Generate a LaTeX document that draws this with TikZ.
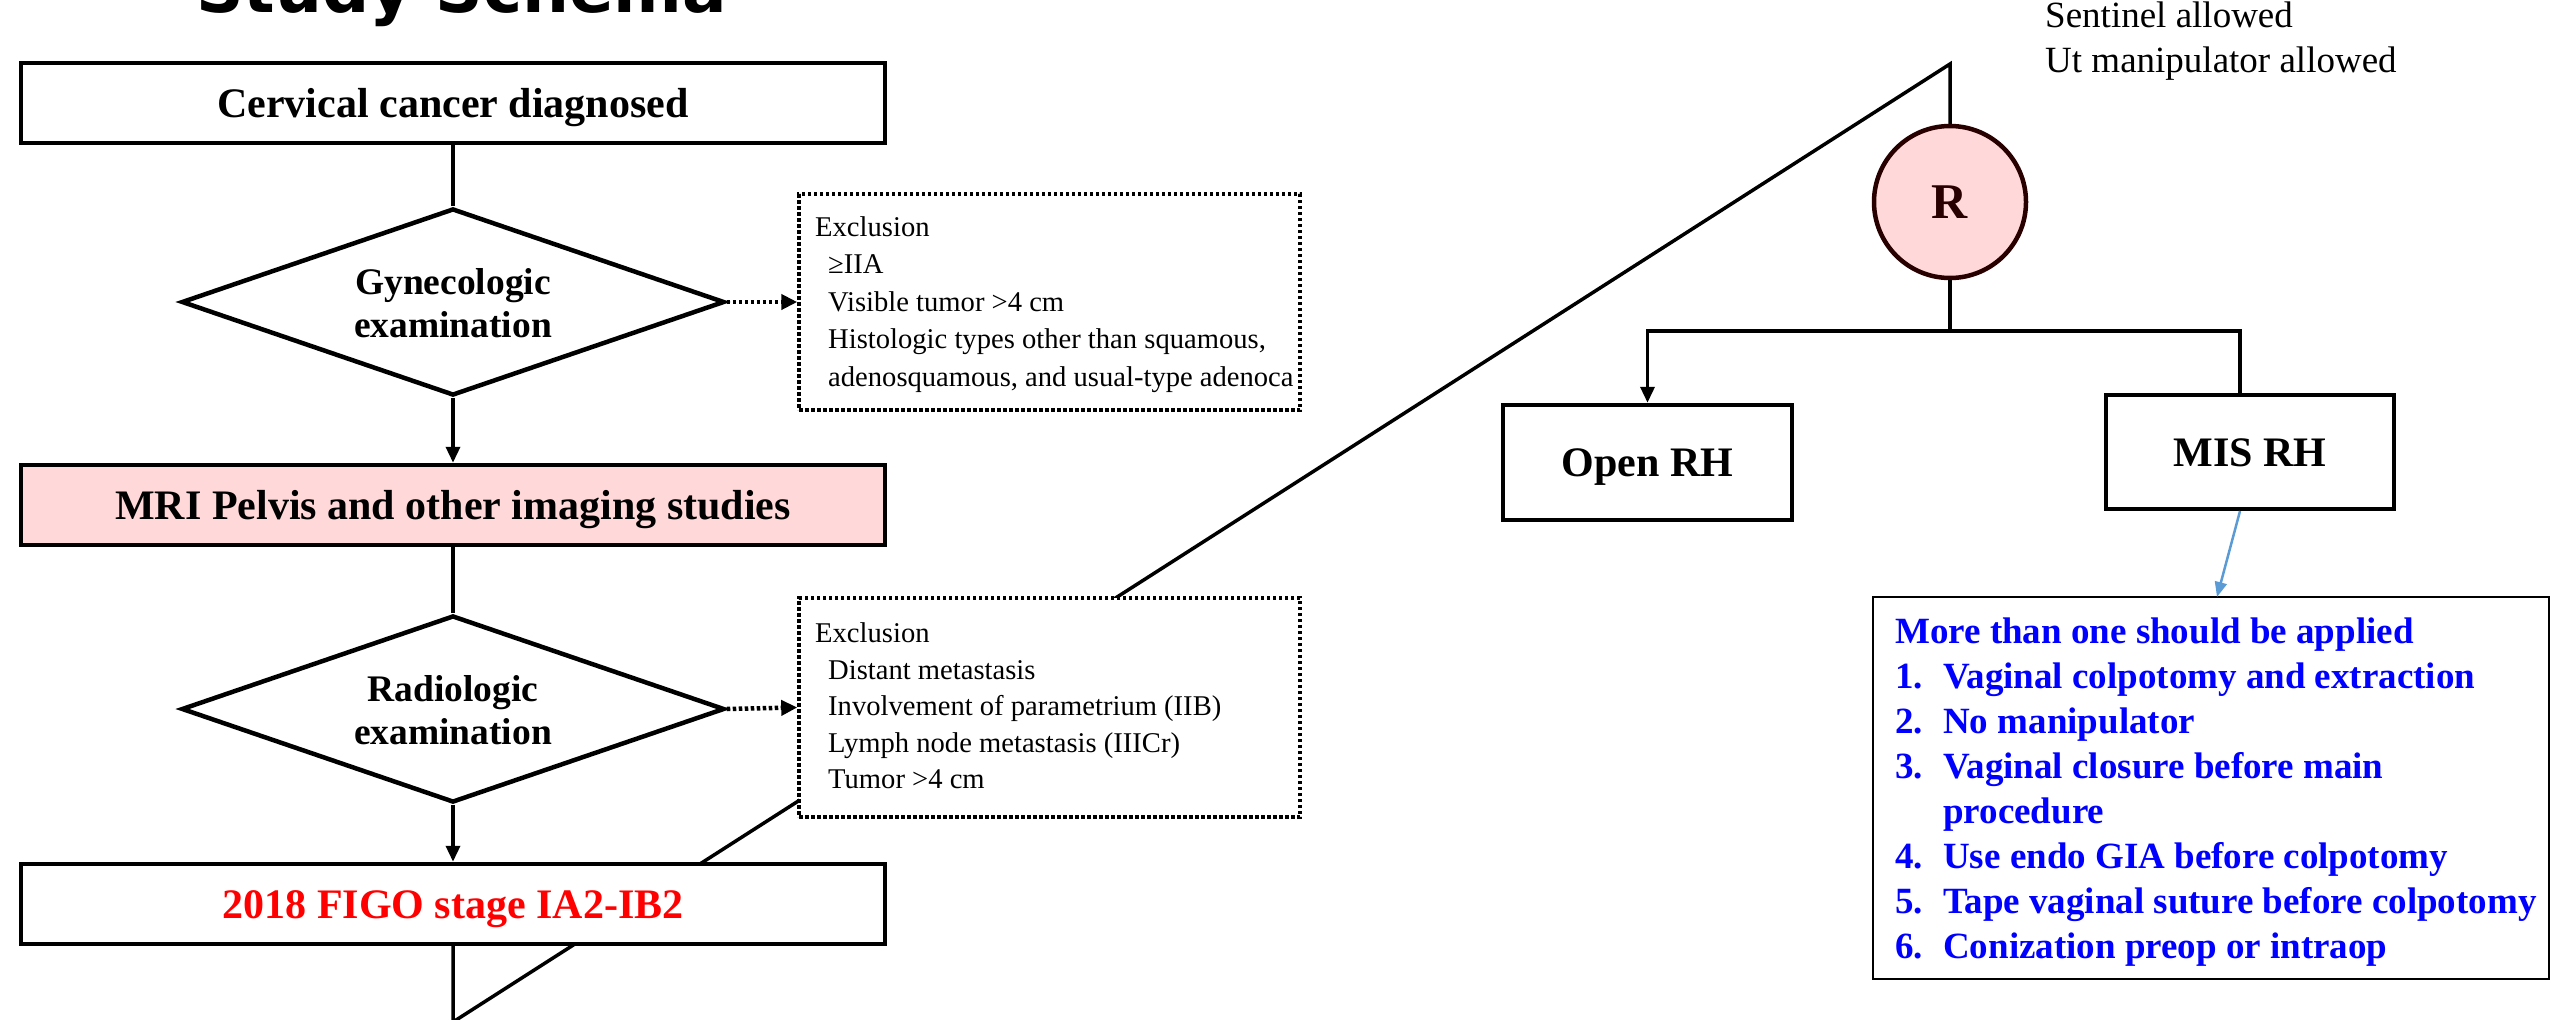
\documentclass[tikz,border=0pt]{standalone}
\usepackage{fontspec}
\setmainfont{Liberation Serif}
\newfontfamily\headfont{DejaVu Sans}
\usetikzlibrary{shapes.geometric,arrows.meta}
\definecolor{rosefill}{RGB}{255,217,217}
\definecolor{rdark}{RGB}{40,0,0}
\definecolor{linkblue}{RGB}{91,155,213}
\definecolor{itemblue}{RGB}{0,0,255}
\begin{document}
\begin{tikzpicture}[x=1pt,y=-1pt,
  box/.style={draw, line width=4.5pt, fill=white, inner sep=0, minimum width=864pt, minimum height=80pt},
  armbox/.style={draw, line width=4.5pt, fill=white, inner sep=0, minimum width=289pt, minimum height=115pt},
  diam/.style={diamond, draw, line width=4.5pt, fill=white, inner sep=0, minimum width=543pt, minimum height=187pt},
  exbox/.style={draw, line width=3.5pt, dash pattern=on 3.5pt off 2.5pt, fill=white, inner sep=0, minimum width=501pt},
  conn/.style={line width=3.5pt},
  tip/.style={-{Triangle[length=16pt,width=14pt]}},
  dotconn/.style={line width=4.5pt, dash pattern=on 3.5pt off 2.5pt, -{Triangle[length=16pt,width=15pt]}},
  boxtext/.style={inner sep=0, anchor=base, font=\fontsize{42}{50}\selectfont\bfseries},
  dtext/.style={inner sep=0, anchor=base, font=\fontsize{37.5}{44}\selectfont\bfseries},
  extext/.style={inner sep=0, anchor=base west, font=\fontsize{28.6}{37}\selectfont},
  listtext/.style={inner sep=0, anchor=base west, text=itemblue, font=\fontsize{37}{45}\selectfont\bfseries},
  notetext/.style={inner sep=0, anchor=base west, font=\fontsize{37}{45}\selectfont}
]
\useasboundingbox (0,0) rectangle (2552,1020);

% heading, partly above the page edge
\begin{scope}
  \clip (0,0) rectangle (2552,1020);
  \node[inner sep=0, anchor=base west, font=\headfont\fontsize{66}{76}\selectfont\bfseries] (title) at (196,12) {Study Schema};
\end{scope}

% long connector from the staging box to randomisation (passes behind boxes)
\coordinate (bendlow) at (453,1022);
\coordinate (bendtop) at (1950,64);
\draw[conn] (453,943) -- (bendlow) -- (bendtop) -- (1950,126);

% left column
\node[box] (diag) at (453,103) {};
\node[boxtext] (diagt) at (453,117) {Cervical cancer diagnosed};

\node[diam] (gyn) at (453,302) {};
\node[dtext] (gynt1) at (453,294) {Gynecologic};
\node[dtext] (gynt2) at (453,337) {examination};

\node[box, fill=rosefill] (mri) at (453,505) {};
\node[boxtext] (mrit) at (453,519) {MRI Pelvis and other imaging studies};

\node[diam] (rad) at (453,709) {};
\node[dtext] (radt1) at (453,701) {Radiologic};
\node[dtext] (radt2) at (453,744) {examination};

\node[box] (figo) at (453,904) {};
\node[boxtext, text=red] (figot) at (453,918) {2018 FIGO stage IA2-IB2};

\draw[conn] (diag.south) -- (gyn.north);
\draw[conn, tip] (gyn.south) -- (mri.north);
\draw[conn] (mri.south) -- (rad.north);
\draw[conn, tip] (rad.south) -- (figo.north);

% exclusion boxes
\node[exbox, minimum height=216pt] (ex1) at (1049.5,302) {};
\node[extext] (ex1a) at (815,236) {Exclusion};
\node[extext] (ex1b) at (828,273.5) {≥IIA};
\node[extext] (ex1c) at (828,311) {Visible tumor >4 cm};
\node[extext] (ex1d) at (828,348.5) {Histologic types other than squamous,};
\node[extext] (ex1e) at (828,386) {adenosquamous, and usual-type adenoca};

\node[exbox, minimum height=219pt] (ex2) at (1049.5,707.5) {};
\node[extext] (ex2a) at (815,642) {Exclusion};
\node[extext] (ex2b) at (828,679) {Distant metastasis};
\node[extext] (ex2c) at (828,715.5) {Involvement of parametrium (IIB)};
\node[extext] (ex2d) at (828,752) {Lymph node metastasis (IIICr)};
\node[extext] (ex2e) at (828,788.5) {Tumor >4 cm};

\draw[dotconn] (gyn.east) -- (ex1.west);
\draw[dotconn] (rad.east) -- (ex2.west);

% randomisation and arms
\node[circle, draw=rdark, line width=4.5pt, fill=rosefill, minimum size=152pt, inner sep=0,
      text=rdark, font=\fontsize{50}{60}\selectfont\bfseries] (rand) at (1950,202) {R};

\node[notetext] (note1) at (2045,27) {Sentinel allowed};
\node[notetext] (note2) at (2045,72) {Ut manipulator allowed};

\node[armbox] (open) at (1647.5,462.5) {};
\node[boxtext] (opent) at (1647.5,476.5) {Open RH};
\node[armbox, minimum width=288pt, minimum height=114pt] (mis) at (2250,452) {};
\node[boxtext] (mist) at (2250,466) {MIS RH};

\coordinate (split) at (1950,331);
\coordinate (mistop) at (2240,395);
\draw[conn] (rand.south) -- (split);
\draw[conn, tip] (split) -| (open.north);
\draw[conn] (split) -| (mistop);

% MIS requirements
\node[draw, line width=2.5pt, fill=white, inner sep=0, minimum width=676pt, minimum height=382pt] (req) at (2211,788) {};
\coordinate (misout) at (2240,511);
\coordinate (reqin) at (2217,597);
\draw[linkblue, line width=2.5pt, -{Triangle[length=15pt,width=12pt]}] (misout) -- (reqin);

\node[listtext] (reqh) at (1895,643) {More than one should be applied};
\node[listtext] (reqn1) at (1895,688) {1.};
\node[listtext] (reqi1) at (1943,688) {Vaginal colpotomy and extraction};
\node[listtext] (reqn2) at (1895,733) {2.};
\node[listtext] (reqi2) at (1943,733) {No manipulator};
\node[listtext] (reqn3) at (1895,778) {3.};
\node[listtext] (reqi3) at (1943,778) {Vaginal closure before main};
\node[listtext] (reqi3b) at (1943,823) {procedure};
\node[listtext] (reqn4) at (1895,868) {4.};
\node[listtext] (reqi4) at (1943,868) {Use endo GIA before colpotomy};
\node[listtext] (reqn5) at (1895,913) {5.};
\node[listtext] (reqi5) at (1943,913) {Tape vaginal suture before colpotomy};
\node[listtext] (reqn6) at (1895,958) {6.};
\node[listtext] (reqi6) at (1943,958) {Conization preop or intraop};
\end{tikzpicture}
\end{document}
